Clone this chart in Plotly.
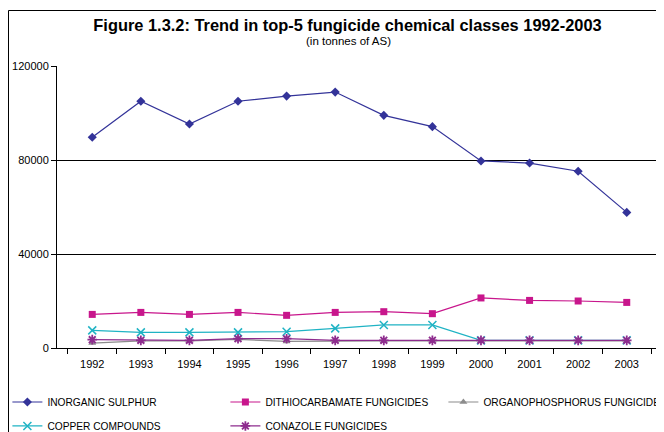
import plotly.graph_objects as go

years = ["1992", "1993", "1994", "1995", "1996", "1997", "1998", "1999", "2000", "2001", "2002", "2003"]
inorganic_sulphur = [89700, 105000, 95300, 105000, 107200, 108900, 99000, 94200, 79600, 78700, 75200, 57700]
dithiocarbamate = [14300, 15150, 14300, 15150, 13900, 15150, 15450, 14600, 21300, 20250, 20000, 19400]
organophosphorus = [2100, 3000, 3000, 3650, 2800, 3000, 3000, 3000, 3000, 3000, 3000, 3000]
copper = [7500, 6650, 6650, 6650, 6950, 8350, 9800, 9800, 3250, 3250, 3250, 3250]
conazole = [3550, 3250, 3250, 3950, 3950, 3250, 3250, 3250, 3250, 3250, 3250, 3250]
y_ticks = [0, 40000, 80000, 120000]

FONT = "Liberation Sans, Arial, sans-serif"

# The page has an 8px default body margin; the figure is sized to fill the rest.
W, H = 656, 424
L, T, PW, PH = 49, 58, 605, 282

fig = go.Figure()

def add(name, vals, color, symbol, size, legend, mline=None):
    marker = dict(symbol=symbol, size=size, color=color)
    if mline is not None:
        marker["line"] = dict(color=color, width=mline)
    fig.add_trace(go.Scatter(
        x=years, y=vals, name=name, mode="lines+markers",
        line=dict(color=color, width=1.2), marker=marker, legend=legend))

add("INORGANIC SULPHUR", inorganic_sulphur, "#333399", "diamond", 7, "legend")
add("DITHIOCARBAMATE FUNGICIDES", dithiocarbamate, "#c8168c", "square", 7, "legend")
add("ORGANOPHOSPHORUS FUNGICIDES", organophosphorus, "#8c8c8c", "triangle-up", 7, "legend")
add("COPPER COMPOUNDS", copper, "#1fb3c4", "x-thin-open", 8, "legend2", 1.5)
add("CONAZOLE FUNGICIDES", conazole, "#8e2c8e", "asterisk-open", 8, "legend2", 1.8)

leg_common = dict(orientation="h", xanchor="left", yanchor="top", x=-0.082,
                  font=dict(family=FONT, size=10.2, color="#000"),
                  entrywidth=173, entrywidthmode="pixels",
                  bgcolor="rgba(0,0,0,0)", borderwidth=0, tracegroupgap=0,
                  itemwidth=30)

fig.update_layout(
    width=W, height=H,
    margin=dict(l=L, r=W - L - PW, t=T, b=H - T - PH, autoexpand=False),
    paper_bgcolor="white", plot_bgcolor="white",
    font=dict(family=FONT, size=11, color="#000"),
    title=dict(text="<b>Figure 1.3.2: Trend in top-5 fungicide chemical classes 1992-2003</b>",
               font=dict(family=FONT, size=16.4, color="#000"),
               x=339.5 / W, xanchor="center", xref="container",
               y=1 - 17 / H, yanchor="middle", yref="container"),
    legend=dict(**leg_common, y=-0.14),
    legend2=dict(**leg_common, y=-0.225),
    xaxis=dict(type="category", showline=True, linecolor="#000", linewidth=1,
               ticks="outside", tickson="boundaries", ticklen=5, tickcolor="#000",
               showgrid=False, zeroline=False, mirror=False, ticklabelstandoff=6,
               tickfont=dict(family=FONT, size=11, color="#000")),
    yaxis=dict(range=[0, 120000], tickvals=y_ticks, ticktext=[str(v) for v in y_ticks],
               showline=True, linecolor="#000", linewidth=1,
               ticks="outside", ticklen=5, tickcolor="#000",
               showgrid=True, gridcolor="#000", gridwidth=1, zeroline=False,
               tickfont=dict(family=FONT, size=11, color="#000")),
    annotations=[dict(text="(in tonnes of AS)", xref="paper", yref="paper",
                      x=(340 - L) / PW, y=(T + PH - 33) / PH, xanchor="center", yanchor="middle",
                      showarrow=False, font=dict(family=FONT, size=11.5, color="#000"))],
    shapes=[dict(type="rect", xref="paper", yref="paper",
                 x0=(0.5 - L) / PW, x1=1.1, y0=-0.5, y1=(T + PH - 2.5) / PH,
                 line=dict(color="#000", width=1), fillcolor="rgba(0,0,0,0)", layer="below")],
)

fig.write_html("out.html")
